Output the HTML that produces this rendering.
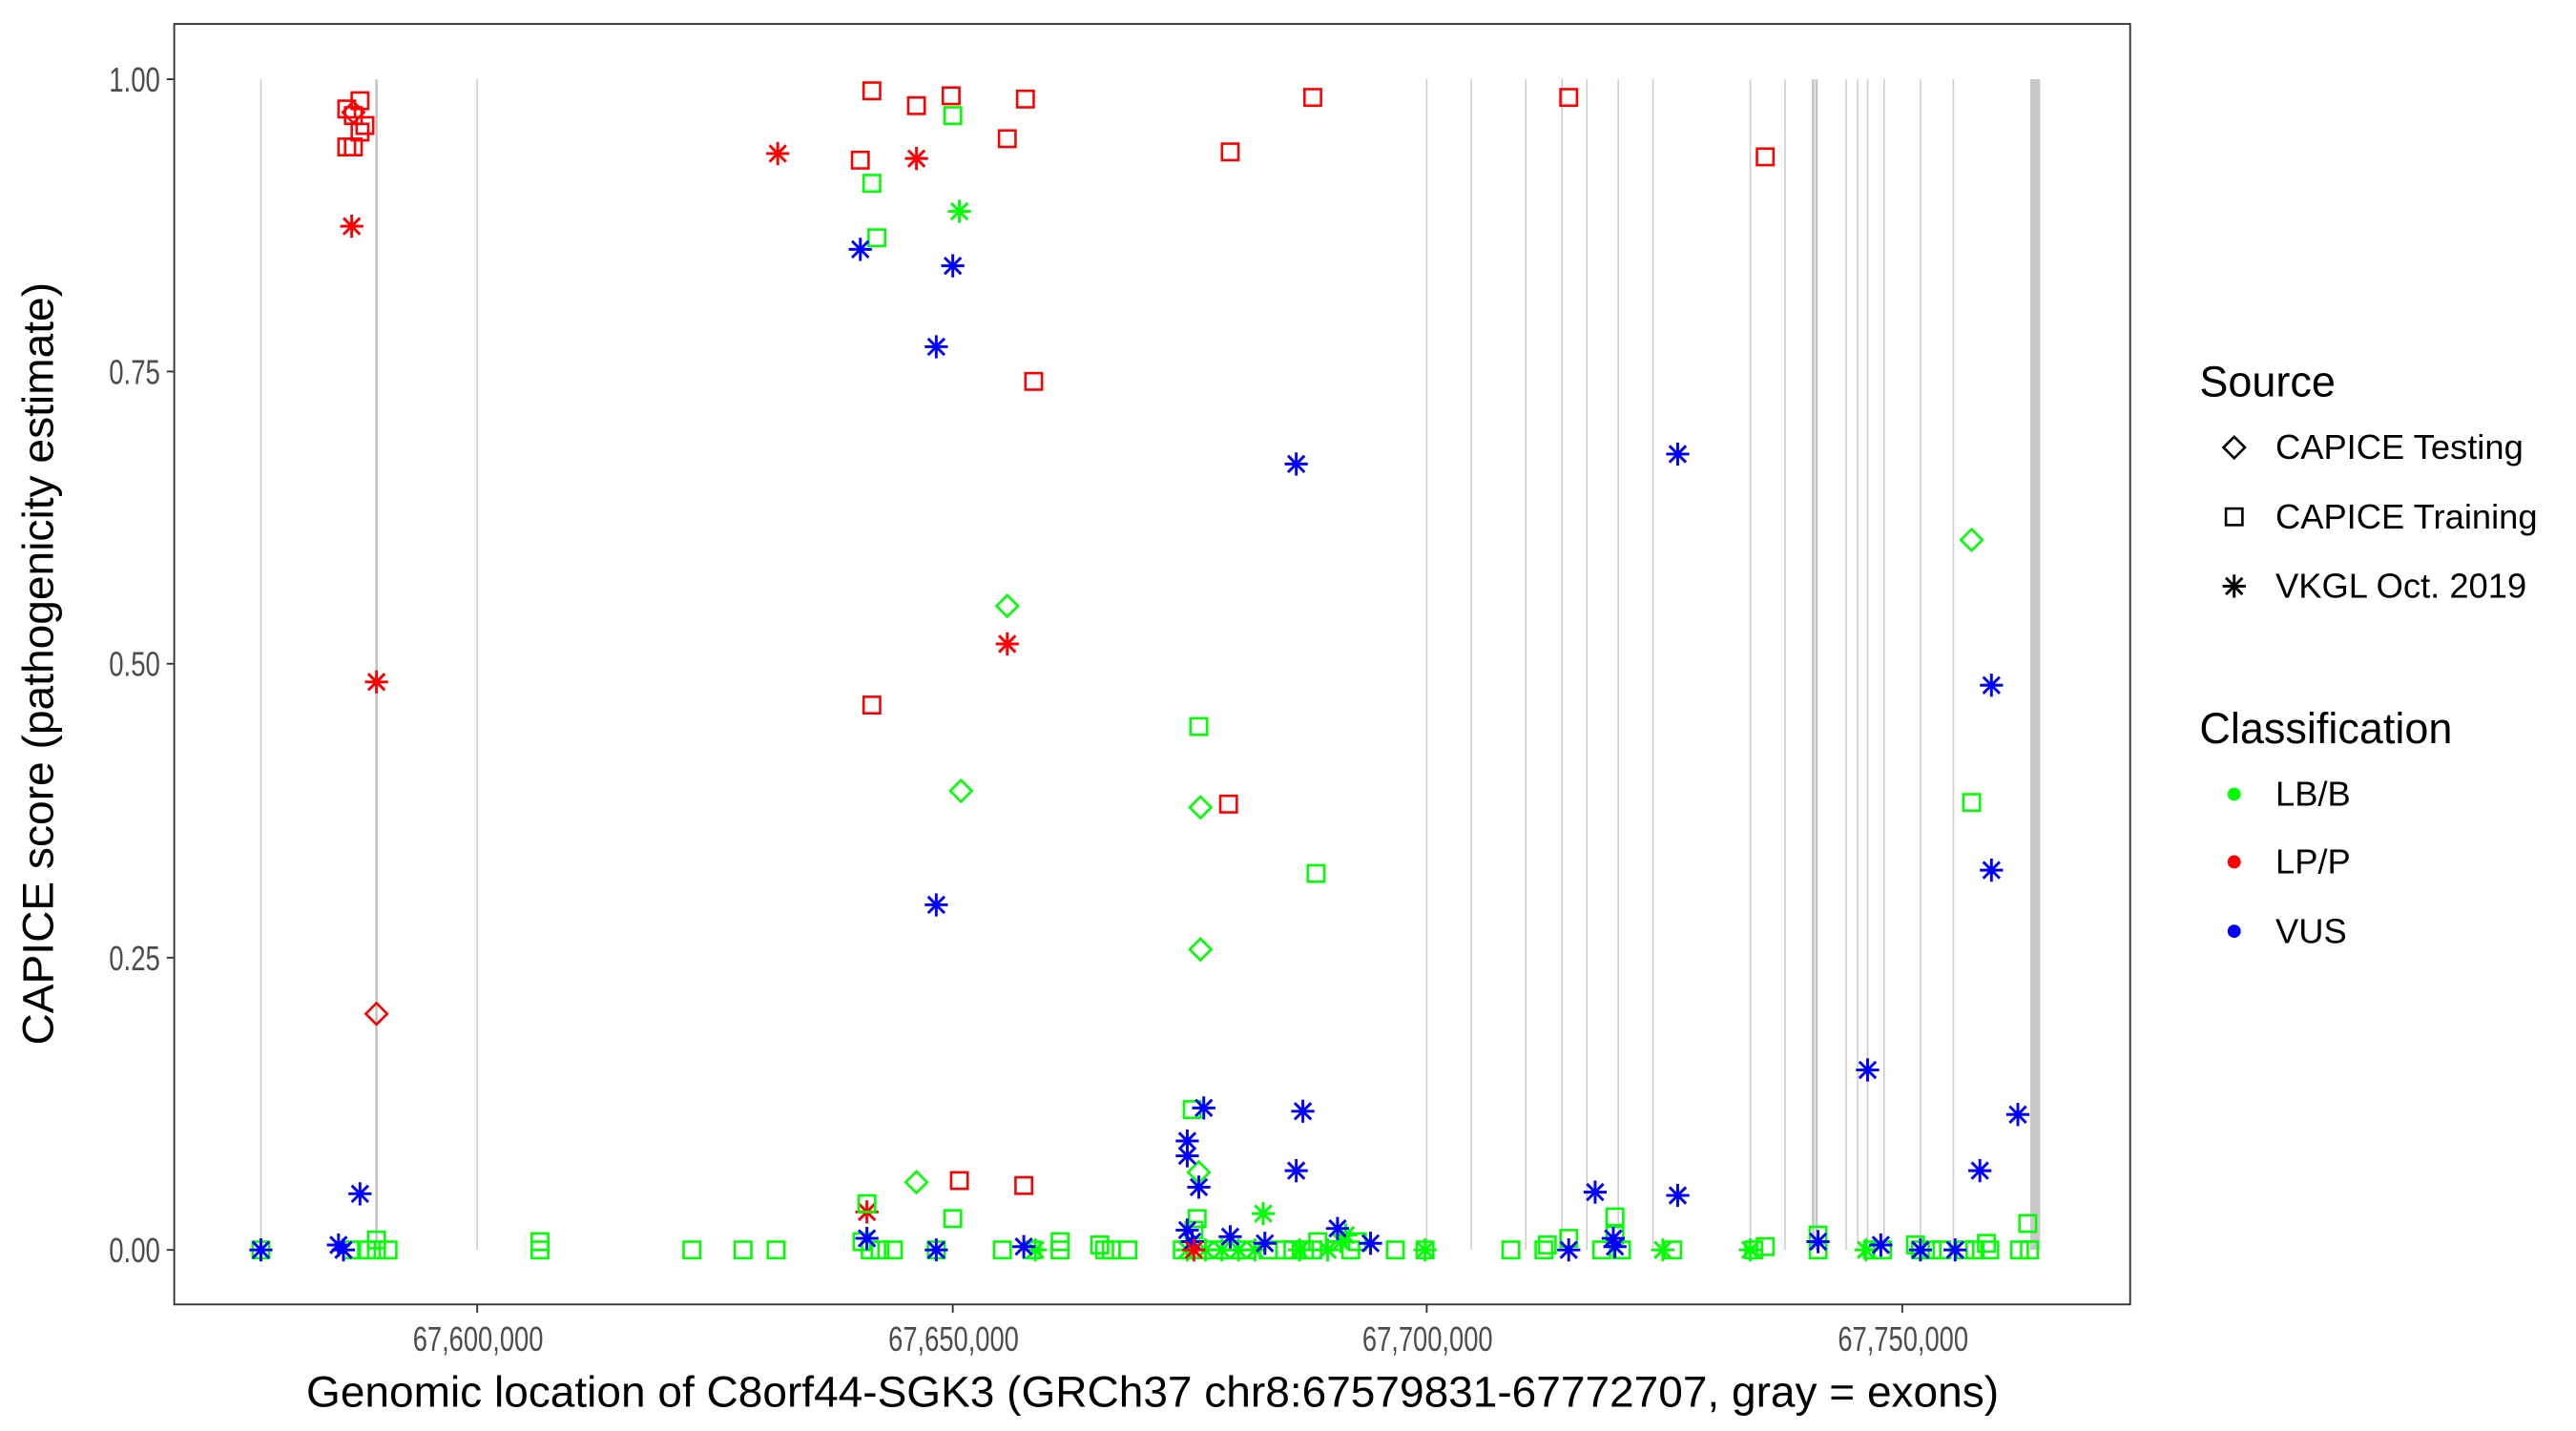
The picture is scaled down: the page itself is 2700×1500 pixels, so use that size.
<!DOCTYPE html>
<html><head><meta charset="utf-8"><style>html,body{margin:0;padding:0;background:#fff}svg{display:block}</style></head>
<body>
<svg width="2700" height="1500" viewBox="0 0 1560 866.67" preserveAspectRatio="none" xmlns="http://www.w3.org/2000/svg" font-family="Liberation Sans, Arial, sans-serif">
<defs>
<g id="S" fill="none" stroke-width="1.5"><rect x="-5" y="-5" width="10" height="10"/></g>
<g id="D" fill="none" stroke-width="1.5"><path d="M0,-6.5 L6.5,0 L0,6.5 L-6.5,0 Z"/></g>
<g id="A" fill="none" stroke-width="1.7"><path d="M0,-7V7M-7,0H7M-5,-5L5,5M-5,5L5,-5"/></g>
</defs>
<rect width="1560" height="866.67" fill="#fff"/>
<g stroke="#cccccc" stroke-width="0.9">
<line x1="158" y1="48" x2="158" y2="757"/>
<line x1="289" y1="48" x2="289" y2="757"/>
<line x1="864" y1="48" x2="864" y2="757"/>
<line x1="891" y1="48" x2="891" y2="757"/>
<line x1="924" y1="48" x2="924" y2="757"/>
<line x1="946" y1="48" x2="946" y2="757"/>
<line x1="961" y1="48" x2="961" y2="757"/>
<line x1="980" y1="48" x2="980" y2="757"/>
<line x1="1001" y1="48" x2="1001" y2="757"/>
<line x1="1060" y1="48" x2="1060" y2="757"/>
<line x1="1081" y1="48" x2="1081" y2="757"/>
<line x1="1118" y1="48" x2="1118" y2="757"/>
<line x1="1125" y1="48" x2="1125" y2="757"/>
<line x1="1131" y1="48" x2="1131" y2="757"/>
<line x1="1141" y1="48" x2="1141" y2="757"/>
<line x1="1163" y1="48" x2="1163" y2="757"/>
<line x1="1183" y1="48" x2="1183" y2="757"/>
</g>
<g stroke="#c4c4c4" stroke-width="1.5">
<line x1="228" y1="48" x2="228" y2="757"/>
<line x1="1100" y1="48" x2="1100" y2="757"/>
<line x1="1098" y1="48" x2="1098" y2="757"/>
</g>
<rect x="1229.5" y="48" width="6" height="709" fill="#c8c8c8"/>

<g stroke="#ff0000">
<use href="#S" x="210" y="66"/><use href="#S" x="218" y="61"/><use href="#S" x="214" y="70"/><use href="#S" x="221" y="76"/><use href="#S" x="218" y="80"/><use href="#S" x="210" y="89"/><use href="#S" x="214" y="89"/>
<use href="#D" x="214" y="68"/><use href="#A" x="213" y="137"/><use href="#A" x="228" y="413"/><use href="#D" x="228" y="614"/>
<use href="#A" x="471" y="93"/>
<use href="#S" x="528" y="55"/><use href="#S" x="555" y="64"/><use href="#S" x="576" y="58"/><use href="#S" x="621" y="60"/><use href="#S" x="610" y="84"/><use href="#S" x="521" y="97"/><use href="#S" x="745" y="92"/><use href="#S" x="795" y="59"/><use href="#S" x="950" y="59"/><use href="#S" x="1069" y="95"/><use href="#S" x="626" y="231"/><use href="#S" x="528" y="427"/><use href="#S" x="744" y="487"/><use href="#S" x="581" y="715"/><use href="#S" x="620" y="718"/>
<use href="#A" x="555" y="96"/><use href="#A" x="610" y="390"/><use href="#A" x="525" y="734"/>
</g>
<g stroke="#00ff00">
<use href="#S" x="158" y="757"/><use href="#S" x="213" y="757"/><use href="#S" x="222" y="757"/><use href="#S" x="228" y="751"/><use href="#S" x="235" y="757"/><use href="#S" x="228" y="757"/>
<use href="#S" x="327" y="752"/><use href="#S" x="327" y="757"/><use href="#S" x="419" y="757"/><use href="#S" x="450" y="757"/><use href="#S" x="470" y="757"/>
<use href="#S" x="577" y="70"/><use href="#S" x="528" y="111"/><use href="#S" x="531" y="144"/><use href="#S" x="726" y="440"/><use href="#S" x="797" y="529"/><use href="#S" x="1194" y="486"/><use href="#S" x="577" y="738"/><use href="#S" x="525" y="729"/>
<use href="#A" x="581" y="128"/><use href="#A" x="765" y="735"/><use href="#A" x="815" y="748"/>
<use href="#D" x="610" y="367"/><use href="#D" x="582" y="479"/><use href="#D" x="727" y="489"/><use href="#D" x="727" y="575"/><use href="#D" x="555" y="716"/><use href="#D" x="1194" y="327"/><use href="#D" x="726" y="710"/>
<use href="#S" x="722" y="672"/><use href="#S" x="725" y="738"/><use href="#S" x="723" y="745"/>
<use href="#S" x="522" y="752"/><use href="#S" x="527" y="757"/><use href="#S" x="533" y="757"/><use href="#S" x="541" y="757"/><use href="#S" x="567" y="757"/><use href="#S" x="607" y="757"/><use href="#S" x="625" y="757"/><use href="#A" x="627" y="757"/><use href="#S" x="642" y="752"/><use href="#S" x="642" y="757"/><use href="#S" x="666" y="754"/><use href="#S" x="669" y="757"/><use href="#S" x="673" y="757"/><use href="#S" x="683" y="757"/>
<use href="#S" x="716" y="757"/><use href="#A" x="719" y="757"/><use href="#S" x="725" y="757"/><use href="#A" x="730" y="757"/><use href="#S" x="735" y="757"/><use href="#A" x="740" y="757"/><use href="#S" x="745" y="757"/><use href="#A" x="750" y="757"/><use href="#S" x="755" y="757"/><use href="#A" x="760" y="757"/><use href="#S" x="768" y="757"/><use href="#S" x="778" y="757"/><use href="#S" x="783" y="757"/><use href="#A" x="787" y="757"/><use href="#S" x="790" y="757"/><use href="#S" x="795" y="757"/><use href="#S" x="798" y="752"/><use href="#A" x="804" y="757"/><use href="#A" x="812" y="752"/><use href="#S" x="818" y="757"/><use href="#S" x="822" y="752"/><use href="#S" x="845" y="757"/><use href="#A" x="863" y="757"/><use href="#S" x="863" y="757"/>
<use href="#S" x="915" y="757"/><use href="#S" x="935" y="757"/><use href="#S" x="937" y="754"/><use href="#S" x="950" y="750"/><use href="#S" x="970" y="757"/><use href="#S" x="978" y="737"/><use href="#S" x="982" y="757"/><use href="#S" x="978" y="748"/><use href="#A" x="1007" y="757"/><use href="#S" x="1013" y="757"/>
<use href="#A" x="1060" y="757"/><use href="#S" x="1062" y="757"/><use href="#S" x="1069" y="755"/><use href="#S" x="1101" y="748"/><use href="#S" x="1101" y="757"/><use href="#A" x="1130" y="757"/><use href="#S" x="1134" y="757"/><use href="#S" x="1140" y="757"/><use href="#S" x="1160" y="754"/><use href="#S" x="1163" y="757"/><use href="#S" x="1170" y="757"/><use href="#S" x="1176" y="757"/><use href="#S" x="1190" y="757"/><use href="#S" x="1196" y="757"/><use href="#S" x="1203" y="753"/><use href="#S" x="1205" y="757"/><use href="#S" x="1223" y="757"/><use href="#S" x="1228" y="741"/><use href="#S" x="1229" y="757"/>
</g>
<g stroke="#0000ff">
<use href="#A" x="218" y="723"/><use href="#A" x="158" y="757"/><use href="#A" x="205" y="754"/><use href="#A" x="208" y="757"/>
<use href="#A" x="521" y="151"/><use href="#A" x="577" y="161"/><use href="#A" x="567" y="210"/><use href="#A" x="785" y="281"/><use href="#A" x="1016" y="275"/><use href="#A" x="567" y="548"/><use href="#A" x="1131" y="648"/><use href="#A" x="1206" y="415"/><use href="#A" x="1206" y="527"/><use href="#A" x="1222" y="675"/><use href="#A" x="1199" y="709"/>
<use href="#A" x="729" y="671"/><use href="#A" x="789" y="673"/><use href="#A" x="785" y="709"/><use href="#A" x="719" y="691"/><use href="#A" x="719" y="700"/><use href="#A" x="726" y="719"/><use href="#A" x="810" y="744"/><use href="#A" x="966" y="722"/><use href="#A" x="1016" y="724"/>
<use href="#A" x="525" y="750"/><use href="#A" x="567" y="757"/><use href="#A" x="620" y="755"/><use href="#A" x="745" y="749"/><use href="#A" x="719" y="745"/><use href="#A" x="722" y="752"/><use href="#A" x="766" y="753"/><use href="#A" x="830" y="753"/><use href="#A" x="950" y="757"/><use href="#A" x="977" y="750"/><use href="#A" x="978" y="755"/><use href="#A" x="1101" y="752"/><use href="#A" x="1139" y="754"/><use href="#A" x="1163" y="757"/><use href="#A" x="1184" y="757"/>
</g>
<g stroke="#ff0000"><use href="#A" x="723" y="757"/></g>

<rect x="105.5" y="14.5" width="1184.5" height="775.5" fill="none" stroke="#333" stroke-width="1.1"/>
<g stroke="#333" stroke-width="1.1">
<line x1="101" y1="48" x2="105" y2="48"/><line x1="101" y1="225" x2="105" y2="225"/><line x1="101" y1="402" x2="105" y2="402"/><line x1="101" y1="580" x2="105" y2="580"/><line x1="101" y1="757" x2="105" y2="757"/>
<line x1="289" y1="790" x2="289" y2="795"/><line x1="577" y1="790" x2="577" y2="795"/><line x1="864" y1="790" x2="864" y2="795"/><line x1="1152" y1="790" x2="1152" y2="795"/>
</g>
<g fill="#4d4d4d" font-size="21" text-anchor="end">
<text x="97" y="55.5" textLength="31" lengthAdjust="spacingAndGlyphs">1.00</text><text x="97" y="232.5" textLength="31" lengthAdjust="spacingAndGlyphs">0.75</text><text x="97" y="409.5" textLength="31" lengthAdjust="spacingAndGlyphs">0.50</text><text x="97" y="587.5" textLength="31" lengthAdjust="spacingAndGlyphs">0.25</text><text x="97" y="764.5" textLength="31" lengthAdjust="spacingAndGlyphs">0.00</text>
</g>
<g fill="#4d4d4d" font-size="21">
<text x="250" y="818" textLength="79" lengthAdjust="spacingAndGlyphs">67,600,000</text><text x="538" y="818" textLength="79" lengthAdjust="spacingAndGlyphs">67,650,000</text><text x="825" y="818" textLength="79" lengthAdjust="spacingAndGlyphs">67,700,000</text><text x="1113" y="818" textLength="79" lengthAdjust="spacingAndGlyphs">67,750,000</text>
</g>
<text x="698" y="852" font-size="26" text-anchor="middle" fill="#000" textLength="1025" lengthAdjust="spacingAndGlyphs">Genomic location of C8orf44-SGK3 (GRCh37 chr8:67579831-67772707, gray = exons)</text>
<text transform="translate(32,402) rotate(-90)" font-size="26" text-anchor="middle" fill="#000" textLength="462" lengthAdjust="spacingAndGlyphs">CAPICE score (pathogenicity estimate)</text>

<text x="1332" y="240" font-size="26" fill="#000">Source</text>
<g stroke="#000"><use href="#D" x="1353" y="271"/><use href="#S" x="1353" y="313"/><use href="#A" x="1353" y="355"/></g>
<g font-size="21" fill="#000"><text x="1378" y="278">CAPICE Testing</text><text x="1378" y="320">CAPICE Training</text><text x="1378" y="362">VKGL Oct. 2019</text></g>
<text x="1332" y="450" font-size="26" fill="#000">Classification</text>
<circle cx="1353" cy="481" r="4" fill="#00ff00"/><circle cx="1353" cy="522" r="4" fill="#ff0000"/><circle cx="1353" cy="564" r="4" fill="#0000ff"/>
<g font-size="21" fill="#000"><text x="1378" y="488">LB/B</text><text x="1378" y="529">LP/P</text><text x="1378" y="571">VUS</text></g>
</svg>
</body></html>
